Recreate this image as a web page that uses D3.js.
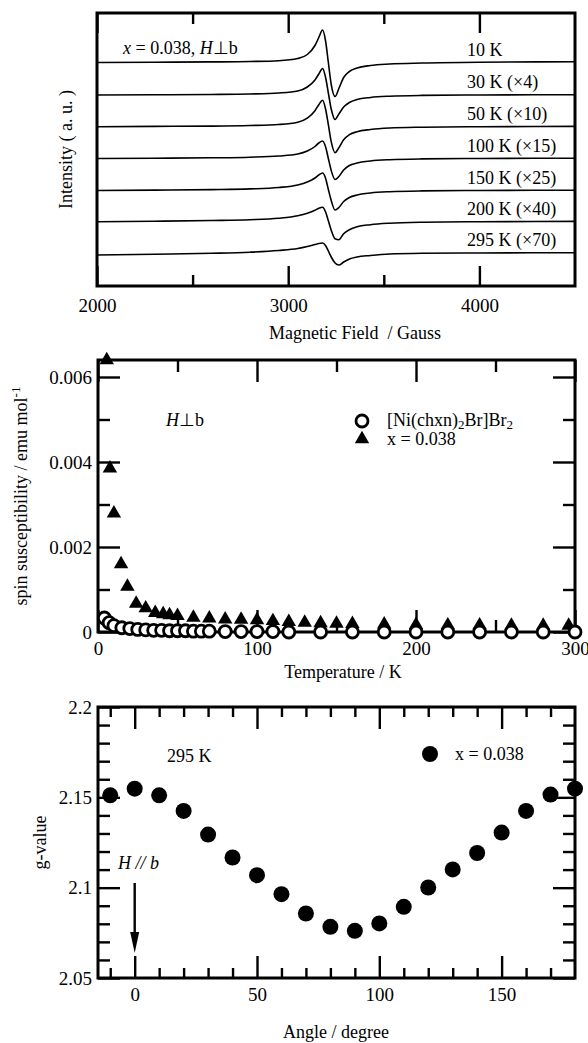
<!DOCTYPE html>
<html>
<head>
<meta charset="utf-8">
<script src="https://cdn.jsdelivr.net/npm/d3@7"></script>
<style>
  body { margin: 0; background: #fff; }
  svg text { font-family: "Liberation Serif", "Times New Roman", serif; font-size: 18px; fill: #000; white-space: pre; }
  .tick line { stroke: #000; stroke-width: 2.4; }
  .domain { display: none; }
</style>
</head>
<body>
<svg id="fig" width="588" height="1043"></svg>
<script>
// ---------- ESR spectra (x = 0.038, H perpendicular to b) ----------
const fieldG = [2000, 2300, 2600, 2800, 2950, 3050, 3100, 3140, 3160, 3180, 3195, 3210,
                3225, 3245, 3265, 3290, 3320, 3360, 3430, 3530, 3700, 4000, 4500];
const esr10K  = [0, 0.3, 0.6, 1, 1.8, 4, 8, 17, 25, 32.5, 22, 0, -22, -34, -26, -15, -9, -5.5, -3, -1.5, -0.5, 0.3, 0.7];
const esr30K  = [0, 0.2, 0.5, 1, 2, 4, 8, 15, 21, 26.5, 18, 2, -14, -24.5, -19, -12, -7.5, -4.5, -2.5, -1.2, -0.4, 0, 0.3];
const esr50K  = [0, 0.3, 0.6, 1.2, 2.2, 4.5, 8.5, 16, 22, 26.5, 18, 2, -15, -26, -21, -13, -8, -5, -2.8, -1.3, -0.5, 0, 0.3];
const esr100K = [0, 0.3, 0.7, 1.3, 2.5, 4.5, 7.5, 12, 15.5, 17.5, 12, 0, -12, -21, -18, -11.5, -7, -4.5, -2.5, -1.2, -0.4, 0, 0.3];
const esr150K = [0, 0.4, 0.9, 1.6, 3, 5.5, 8.5, 12.5, 15.5, 17.5, 12.5, 1, -10, -19.5, -17, -11, -7, -4.5, -2.5, -1.2, -0.4, 0, 0.3];
const esr200K = [0, 0.5, 1.2, 2, 3.5, 6, 8.5, 11.5, 13.5, 14.5, 10, 1, -8.5, -17, -18, -12, -8, -5, -3, -1.5, -0.5, 0, 0.3];
const esr295K = [-2, -1.2, -0.3, 0.8, 2.5, 4.5, 6.5, 8.5, 9.5, 10, 7.5, 2, -4, -10, -12, -9, -6, -4, -2.5, -1, -0.3, 0, 0.3];
const esrSpectra = [esr10K, esr30K, esr50K, esr100K, esr150K, esr200K, esr295K];
const esrOffsets = [223.5, 191, 159.3, 127.5, 95.5, 64.3, 33];      // vertical stacking, a.u.
const esrLabels  = ["10 K", "30 K (\u00d74)", "50 K (\u00d710)", "100 K (\u00d715)",
                    "150 K (\u00d725)", "200 K (\u00d740)", "295 K (\u00d770)"];
const fieldTicks = [2000, 3000, 4000];
const fieldMinor = [2500, 3500];

// ---------- spin susceptibility vs temperature ----------
const tempNi = [4, 7, 10, 15, 20, 25, 30, 35, 40, 45, 50, 55, 60, 65, 70, 80, 90, 100, 110,
                120, 140, 160, 180, 200, 220, 240, 260, 280, 300];
const chiNi  = [0.00033, 0.00022, 0.00015, 0.0001, 0.00008, 0.00006, 0.00005, 0.00004, 0.00004,
                0.00003, 0.00003, 0.00003, 0.00002, 0.00002, 0.00002, 0.00001, 0.00001, 0.00001,
                0.00001, 0, 0, 0, 0, 0, 0, 0, 0, 0, 0];
const tempX  = [5.5, 7.5, 10, 14.5, 18.5, 24, 30, 36, 41, 45, 50, 60, 70, 80, 90, 100, 110, 120,
                130, 140, 150, 160, 180, 200, 220, 240, 260, 280, 296];
const chiX   = [0.0064, 0.00385, 0.00279, 0.0016, 0.00107, 0.00067, 0.00056, 0.00045, 0.00042,
                0.0004, 0.00038, 0.00034, 0.00032, 0.0003, 0.00029, 0.00028, 0.00026, 0.00024,
                0.00022, 0.00021, 0.0002, 0.00019, 0.00018, 0.00017, 0.00016, 0.00016, 0.00015,
                0.00015, 0.00015];
const tempTicks = [0, 100, 200, 300];
const tempMinor = [50, 150, 250];
const chiTicks  = [0, 0.002, 0.004, 0.006];
const chiMinor  = [0.001, 0.003, 0.005];

// ---------- g-value vs rotation angle (295 K) ----------
const angle  = [-10, 0, 10, 20, 30, 40, 50, 60, 70, 80, 90, 100, 110, 120, 130, 140, 150, 160, 170, 180];
const gValue = [2.1511, 2.1548, 2.1511, 2.1425, 2.1294, 2.1167, 2.1069, 2.0964, 2.0857, 2.0783,
                2.0761, 2.0802, 2.0894, 2.1001, 2.1101, 2.1192, 2.1305, 2.1425, 2.1515, 2.1548];
const angleTicks = [0, 50, 100, 150];
const angleMinor = [-10, 10, 20, 30, 40, 60, 70, 80, 90, 110, 120, 130, 140, 160, 170];
const gTicks = [2.05, 2.1, 2.15, 2.2];
const gMinor = [2.06, 2.07, 2.08, 2.09, 2.11, 2.12, 2.13, 2.14, 2.16, 2.17, 2.18, 2.19];

const svg = d3.select("#fig");

// Box with inward ticks on all four sides
function drawFrame(g, x, y, o) {
  const [xl, xr] = x.range();
  const [yb, yt] = y.range();
  const W = xr - xl, H = yb - yt;
  const ax = (gen, tf) => g.append("g").attr("transform", tf).call(gen);
  // bottom
  ax(d3.axisBottom(x).tickValues(o.xMajor).tickSize(-o.xLong).tickPadding(o.xPad)
       .tickFormat(o.xFmt), `translate(0,${yb})`);
  ax(d3.axisBottom(x).tickValues(o.xMinor).tickSize(-o.xShort).tickFormat(""), `translate(0,${yb})`);
  // top
  ax(d3.axisTop(x).tickValues(o.xMajor).tickSize(-o.xLong).tickFormat(""), `translate(0,${yt})`);
  ax(d3.axisTop(x).tickValues(o.xMinor).tickSize(-o.xShort).tickFormat(""), `translate(0,${yt})`);
  if (o.yMajor) {
    ax(d3.axisLeft(y).tickValues(o.yMajor).tickSize(-22).tickPadding(6).tickFormat(o.yFmt),
       `translate(${xl},0)`);
    ax(d3.axisLeft(y).tickValues(o.yMinor).tickSize(-12).tickFormat(""), `translate(${xl},0)`);
    ax(d3.axisRight(y).tickValues(o.yMajor).tickSize(-22).tickFormat(""), `translate(${xr},0)`);
    ax(d3.axisRight(y).tickValues(o.yMinor).tickSize(-12).tickFormat(""), `translate(${xr},0)`);
  }
  g.selectAll(".tick text").style("font-size", "19px").style("font-family", "Liberation Serif");
  g.append("rect").attr("x", xl).attr("y", yt).attr("width", W).attr("height", H)
    .attr("fill", "none").attr("stroke", "#000").attr("stroke-width", 3);
}

// ================= Panel 1: ESR spectra =================
{
  const g = svg.append("g");
  const x = d3.scaleLinear().domain([2000, 4500]).range([97, 575]);
  const y = d3.scaleLinear().domain([0, 273]).range([286, 13]);
  const line = d3.line().x((d, i) => x(fieldG[i])).y(d => d).curve(d3.curveMonotoneX);
  esrSpectra.forEach((s, k) => {
    g.append("path")
      .attr("d", line(s.map(v => y(esrOffsets[k] + v))))
      .attr("fill", "none").attr("stroke", "#000").attr("stroke-width", 1.6)
      .attr("stroke-linejoin", "round");
    g.append("text").attr("x", 467).attr("y", y(esrOffsets[k]) - 7).text(esrLabels[k]);
  });
  drawFrame(g, x, y, {
    xMajor: fieldTicks, xMinor: fieldMinor, xLong: 20, xShort: 11, xPad: 13,
    xFmt: d3.format("d")
  });
  const t = g.append("text").attr("x", 123).attr("y", 54);
  t.append("tspan").style("font-style", "italic").text("x");
  t.append("tspan").text(" = 0.038, ");
  t.append("tspan").style("font-style", "italic").text("H");
  t.append("tspan").text("\u22a5b");
  g.append("text").attr("x", 355).attr("y", 339).attr("text-anchor", "middle")
    .text("Magnetic Field  / Gauss");
  g.append("text").attr("transform", `translate(72,${(13 + 286) / 2}) rotate(-90)`)
    .attr("text-anchor", "middle").text("Intensity ( a. u. )");
}

// ================= Panel 2: spin susceptibility =================
{
  const g = svg.append("g");
  const x = d3.scaleLinear().domain([0, 300]).range([98, 575]);
  const y = d3.scaleLinear().domain([0, 0.0064]).range([632, 360]);
  drawFrame(g, x, y, {
    xMajor: tempTicks, xMinor: tempMinor, xLong: 22, xShort: 12, xPad: 10,
    xFmt: d3.format("d"),
    yMajor: chiTicks, yMinor: chiMinor, yFmt: d => d === 0 ? "0" : d3.format(".3f")(d)
  });
  const tri = d3.symbol().type(d3.symbolTriangle).size(90);
  g.append("g").selectAll("path").data(tempX).join("path")
    .attr("transform", (d, i) => `translate(${x(d)},${y(chiX[i])})`)
    .attr("d", tri).attr("fill", "#000");
  g.append("g").selectAll("circle").data(tempNi).join("circle")
    .attr("cx", d => x(d)).attr("cy", (d, i) => y(chiNi[i])).attr("r", 6)
    .attr("fill", "#fff").attr("stroke", "#000").attr("stroke-width", 2.8);

  // legend
  g.append("circle").attr("cx", 362).attr("cy", 421).attr("r", 6)
    .attr("fill", "#fff").attr("stroke", "#000").attr("stroke-width", 2.8);
  g.append("path").attr("transform", "translate(362,439)").attr("d", tri).attr("fill", "#000");
  const l1 = g.append("text").attr("x", 387).attr("y", 426);
  l1.append("tspan").text("[Ni(chxn)");
  l1.append("tspan").attr("dy", 3).style("font-size", "13px").text("2");
  l1.append("tspan").attr("dy", -3).text("Br]Br");
  l1.append("tspan").attr("dy", 3).style("font-size", "13px").text("2");
  g.append("text").attr("x", 387).attr("y", 445).text("x = 0.038");

  const hb = g.append("text").attr("x", 166).attr("y", 426);
  hb.append("tspan").style("font-style", "italic").text("H");
  hb.append("tspan").text("\u22a5b");

  g.append("text").attr("x", 343).attr("y", 678).attr("text-anchor", "middle")
    .text("Temperature / K");
  const yl = g.append("text").attr("transform", `translate(27,${(360 + 632) / 2}) rotate(-90)`)
    .attr("text-anchor", "middle");
  yl.append("tspan").text("spin susceptibility / emu mol");
  yl.append("tspan").attr("dy", -7).style("font-size", "13px").text("-1");
}

// ================= Panel 3: g-value =================
{
  const g = svg.append("g");
  const x = d3.scaleLinear().domain([-15, 180]).range([98, 575]);
  const y = d3.scaleLinear().domain([2.05, 2.2]).range([978, 707]);
  drawFrame(g, x, y, {
    xMajor: angleTicks, xMinor: angleMinor, xLong: 22, xShort: 10, xPad: 10,
    xFmt: d3.format("d"),
    yMajor: gTicks, yMinor: gMinor, yFmt: d => String(+d.toFixed(2))
  });
  g.append("g").selectAll("circle").data(angle).join("circle")
    .attr("cx", d => x(d)).attr("cy", (d, i) => y(gValue[i])).attr("r", 8).attr("fill", "#000");

  // legend and annotations
  g.append("circle").attr("cx", 430).attr("cy", 754).attr("r", 8).attr("fill", "#000");
  g.append("text").attr("x", 455).attr("y", 760).text("x = 0.038");
  g.append("text").attr("x", 167).attr("y", 762).text("295 K");
  const hb = g.append("text").attr("x", 118).attr("y", 869).style("font-style", "italic");
  hb.text("H // b");
  const ax0 = x(0);
  g.append("line").attr("x1", ax0).attr("x2", ax0).attr("y1", 883).attr("y2", 935)
    .attr("stroke", "#000").attr("stroke-width", 2.4);
  g.append("path").attr("d", `M${ax0 - 4.5},932 L${ax0 + 4.5},932 L${ax0},953 Z`).attr("fill", "#000");

  g.append("text").attr("x", 336).attr("y", 1038).attr("text-anchor", "middle")
    .text("Angle / degree");
  g.append("text").attr("transform", `translate(46,${(707 + 978) / 2}) rotate(-90)`)
    .attr("text-anchor", "middle").text("g-value");
}
</script>
</body>
</html>
